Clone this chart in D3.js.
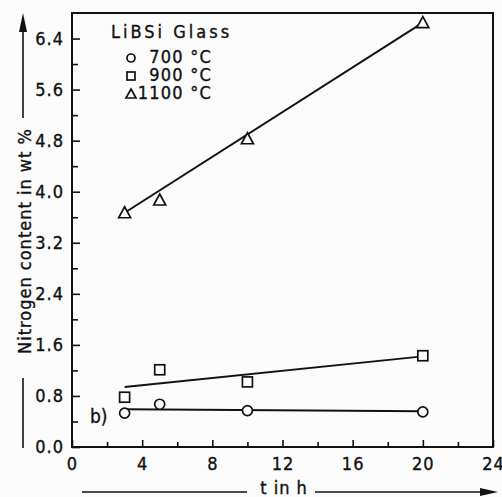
<!DOCTYPE html>
<html>
<head>
<meta charset="utf-8">
<script src="https://cdn.jsdelivr.net/npm/d3@7"></script>
<style>
  html, body { margin: 0; padding: 0; background: #fbfbfb; }
  svg text { font-family: "DejaVu Sans Condensed", "DejaVu Sans", sans-serif; font-stretch: condensed;
             fill: #111; stroke: #111; stroke-width: 0.35px; }
</style>
</head>
<body>
<div id="chart"></div>
<script>
// measured points (t in h, nitrogen wt%)
const times = [3, 5, 10, 20];
const n700 = [0.53, 0.67, 0.57, 0.55];
const n900 = [0.78, 1.21, 1.02, 1.43];
const n1100 = [3.67, 3.87, 4.83, 6.65];

// straight fit lines, end points
const fitTimes = [3, 20];
const fit700 = [0.59, 0.56];
const fit900 = [0.94, 1.42];
const fit1100 = [3.67, 6.65];

const xMajor = [0, 4, 8, 12, 16, 20, 24];
const xMinor = [2, 6, 10, 14, 18, 22];
const yMajor = [0, 0.8, 1.6, 2.4, 3.2, 4.0, 4.8, 5.6, 6.4];
const yMinor = [0.4, 1.2, 2.0, 2.8, 3.6, 4.4, 5.2, 6.0];

const legendLabels = ["700 °C", "900 °C", "1100 °C"];
const symbols = ["circle", "square", "triangle"];

const W = 502, H = 497;
const ink = "#111";

const svg = d3.select("#chart").append("svg")
    .attr("width", W)
    .attr("height", H);

const x = d3.scaleLinear().domain([0, 24]).range([72, 493]);
const y = d3.scaleLinear().domain([0, 6.8]).range([447, 13]);

// X axis
svg.append("g")
    .attr("transform", `translate(0,${y(0)})`)
    .call(d3.axisBottom(x).tickValues(xMajor).tickFormat(d3.format("d"))
        .tickSizeInner(-7).tickSizeOuter(0).tickPadding(10));
svg.append("g")
    .attr("transform", `translate(0,${y(0)})`)
    .call(d3.axisBottom(x).tickValues(xMinor).tickFormat("")
        .tickSizeInner(-5).tickSizeOuter(0));

// Y axis
svg.append("g")
    .attr("transform", `translate(${x(0)},0)`)
    .call(d3.axisLeft(y).tickValues(yMajor).tickFormat(d3.format(".1f"))
        .tickSizeInner(-8).tickSizeOuter(0).tickPadding(8));
svg.append("g")
    .attr("transform", `translate(${x(0)},0)`)
    .call(d3.axisLeft(y).tickValues(yMinor).tickFormat("")
        .tickSizeInner(-6).tickSizeOuter(0));

svg.selectAll(".domain").remove();
svg.selectAll(".tick line").attr("stroke", ink).attr("stroke-width", 1.6);
svg.selectAll(".tick text")
    .style("font-size", "18px")
    .style("letter-spacing", "1px");

// frame
svg.append("rect")
    .attr("x", x(0)).attr("y", y(6.8))
    .attr("width", x(24) - x(0)).attr("height", y(0) - y(6.8))
    .attr("fill", "none").attr("stroke", ink).attr("stroke-width", 2);

// fit lines
const line = d3.line().x(d => x(d[0])).y(d => y(d[1]));
[fit700, fit900, fit1100].forEach(f => {
    svg.append("path")
        .datum(fitTimes.map((t, i) => [t, f[i]]))
        .attr("fill", "none")
        .attr("stroke", ink)
        .attr("stroke-width", 2)
        .attr("d", line);
});

// markers
function marker(g, type, cx, cy, s) {
    if (type === "circle") {
        g.append("circle").attr("cx", cx).attr("cy", cy).attr("r", s);
    } else if (type === "square") {
        g.append("rect").attr("x", cx - s).attr("y", cy - s).attr("width", 2 * s).attr("height", 2 * s);
    } else {
        g.append("path").attr("d", `M${cx},${cy - s - 1}L${cx + s + 1},${cy + s}L${cx - s - 1},${cy + s}Z`);
    }
}
const markG = svg.append("g").attr("fill", "#fbfbfb").attr("stroke", ink).attr("stroke-width", 1.7);
[n700, n900, n1100].forEach((vals, s) => {
    times.forEach((t, i) => marker(markG, symbols[s], x(t), y(vals[i]), 5));
});

// legend
svg.append("text")
    .attr("x", 111).attr("y", 38)
    .style("font-size", "18px").style("letter-spacing", "3px")
    .text("LiBSi Glass");
const legY = [63, 81, 99];
legendLabels.forEach((lab, i) => {
    marker(markG, symbols[i], 131, legY[i] - 5, 4);
    svg.append("text")
        .attr("x", 212).attr("y", legY[i])
        .attr("text-anchor", "end")
        .style("font-size", "18px").style("letter-spacing", "1.2px")
        .text(lab);
});

svg.append("text")
    .attr("x", 90).attr("y", 423)
    .style("font-size", "19px")
    .text("b)");

// axis titles with arrows
const titleG = svg.append("g");
titleG.append("text")
    .attr("transform", "translate(31,241) rotate(-90)")
    .attr("text-anchor", "middle")
    .style("font-size", "18px").style("letter-spacing", "1px")
    .text("Nitrogen content in wt %");
titleG.append("line").attr("x1", 23).attr("x2", 23).attr("y1", 118).attr("y2", 28)
    .attr("stroke", ink).attr("stroke-width", 1.6);
titleG.append("path").attr("d", "M23,13L27,32L19,32Z").attr("fill", ink);
titleG.append("line").attr("x1", 23).attr("x2", 23).attr("y1", 378).attr("y2", 448)
    .attr("stroke", ink).attr("stroke-width", 1.6);

titleG.append("text")
    .attr("x", 284).attr("y", 494)
    .attr("text-anchor", "middle")
    .style("font-size", "18px").style("letter-spacing", "1px")
    .text("t in h");
titleG.append("line").attr("x1", 82).attr("x2", 247).attr("y1", 492).attr("y2", 492)
    .attr("stroke", ink).attr("stroke-width", 1.6);
titleG.append("line").attr("x1", 315).attr("x2", 482).attr("y1", 492).attr("y2", 492)
    .attr("stroke", ink).attr("stroke-width", 1.6);
titleG.append("path").attr("d", "M498,492L480,488L480,496Z").attr("fill", ink);
</script>
</body>
</html>
